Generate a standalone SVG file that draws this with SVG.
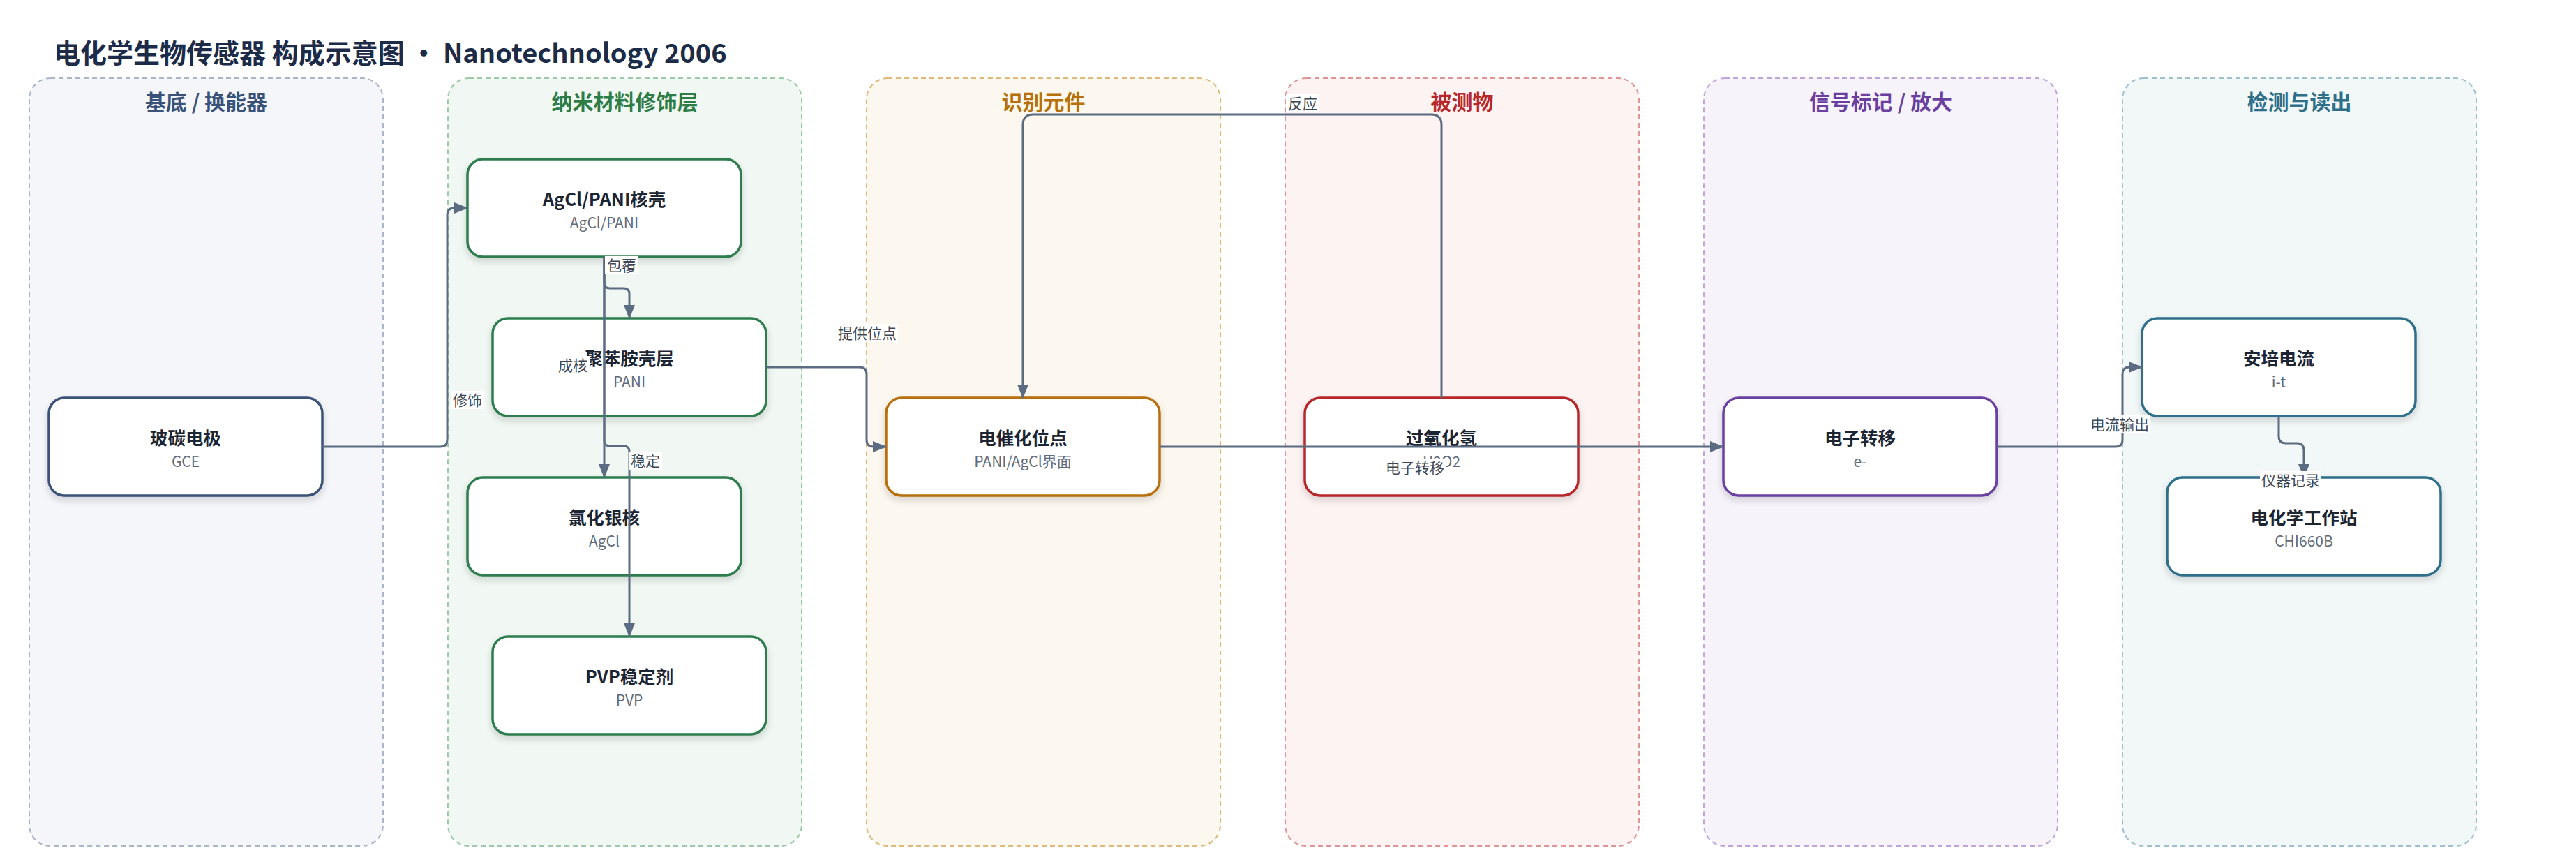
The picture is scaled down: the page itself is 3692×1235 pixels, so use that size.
<svg xmlns="http://www.w3.org/2000/svg" width="3692" height="1235" viewBox="0 0 3692 1235">
<defs>
<filter id="sh" x="-10%" y="-10%" width="120%" height="140%">
<feDropShadow dx="0" dy="5" stdDeviation="5" flood-color="#1c2533" flood-opacity="0.18"/>
</filter>
<marker id="arr" markerUnits="userSpaceOnUse" markerWidth="20" markerHeight="18" refX="19" refY="8" orient="auto">
<path d="M0,0 L20,8 L0,16 Z" fill="#5a6b82"/>
</marker>
</defs>
<style>
.title{font-family:"Noto Sans CJK SC","Noto Sans",sans-serif;font-weight:700;font-size:38px;fill:#1b2b48}
.lane{stroke-width:2;stroke-dasharray:7 5}
.lt{font-family:"Noto Sans CJK SC","Noto Sans",sans-serif;font-weight:700;font-size:30px;text-anchor:middle}
.node{fill:#ffffff;stroke-width:3.5;filter:url(#sh)}
.nt{font-family:"Noto Sans CJK SC","Noto Sans",sans-serif;font-weight:700;font-size:25.5px;fill:#1c2533;text-anchor:middle}
.ns{font-family:"Noto Sans CJK SC","Noto Sans",sans-serif;font-size:21px;fill:#5f6b7a;text-anchor:middle}
.edge{fill:none;stroke:#5a6b82;stroke-width:3;marker-end:url(#arr)}
.lb{fill:#ffffff}
.lbt{font-family:"Noto Sans CJK SC","Noto Sans",sans-serif;font-size:21px;fill:#3d4756;text-anchor:middle}
</style>
<rect width="3692" height="1235" fill="#ffffff"/>
<text class="title" x="77" y="90">电化学生物传感器 构成示意图 · Nanotechnology 2006</text>

<g id="lanes">
<g id="lane-substrate"><rect class="lane" x="42" y="112" width="507" height="1100" rx="30" fill="#f4f6fa" stroke="#aab5c9"/><text class="lt" x="295.5" y="157" fill="#3b5278">基底 / 换能器</text></g>
<g id="lane-nano"><rect class="lane" x="642" y="112" width="507" height="1100" rx="30" fill="#f1f8f3" stroke="#9ccaa8"/><text class="lt" x="895.5" y="157" fill="#2e7d46">纳米材料修饰层</text></g>
<g id="lane-recog"><rect class="lane" x="1242" y="112" width="507" height="1100" rx="30" fill="#fdf8ef" stroke="#e0b978"/><text class="lt" x="1495.5" y="157" fill="#b8700a">识别元件</text></g>
<g id="lane-analyte"><rect class="lane" x="1842" y="112" width="507" height="1100" rx="30" fill="#fdf3f2" stroke="#e09494"/><text class="lt" x="2095.5" y="157" fill="#b8282a">被测物</text></g>
<g id="lane-signal"><rect class="lane" x="2442" y="112" width="507" height="1100" rx="30" fill="#f6f3fb" stroke="#c0a5dc"/><text class="lt" x="2695.5" y="157" fill="#6a3fa0">信号标记 / 放大</text></g>
<g id="lane-detect"><rect class="lane" x="3042" y="112" width="507" height="1100" rx="30" fill="#f2f7f8" stroke="#9cc0cc"/><text class="lt" x="3295.5" y="157" fill="#2f6f8a">检测与读出</text></g>
</g>

<g id="node-gce"><rect class="node" x="70" y="570" width="392" height="140" rx="22" stroke="#3b5278"/><text class="nt" x="266" y="637">玻碳电极</text><text class="ns" x="266" y="669">GCE</text></g>
<g id="node-agclpani"><rect class="node" x="670" y="228" width="392" height="140" rx="22" stroke="#2e7d4f"/><text class="nt" x="866" y="295">AgCl/PANI核壳</text><text class="ns" x="866" y="327">AgCl/PANI</text></g>
<g id="node-pani"><rect class="node" x="706" y="456" width="392" height="140" rx="22" stroke="#2e7d4f"/><text class="nt" x="902" y="523">聚苯胺壳层</text><text class="ns" x="902" y="555">PANI</text></g>
<g id="node-agcl"><rect class="node" x="670" y="684" width="392" height="140" rx="22" stroke="#2e7d4f"/><text class="nt" x="866" y="751">氯化银核</text><text class="ns" x="866" y="783">AgCl</text></g>
<g id="node-pvp"><rect class="node" x="706" y="912" width="392" height="140" rx="22" stroke="#2e7d4f"/><text class="nt" x="902" y="979">PVP稳定剂</text><text class="ns" x="902" y="1011">PVP</text></g>
<g id="node-site"><rect class="node" x="1270" y="570" width="392" height="140" rx="22" stroke="#b8700a"/><text class="nt" x="1466" y="637">电催化位点</text><text class="ns" x="1466" y="669">PANI/AgCl界面</text></g>
<g id="node-h2o2"><rect class="node" x="1870" y="570" width="392" height="140" rx="22" stroke="#b8282a"/><text class="nt" x="2066" y="637">过氧化氢</text><text class="ns" x="2066" y="669">H2O2</text></g>
<g id="node-etransfer"><rect class="node" x="2470" y="570" width="392" height="140" rx="22" stroke="#6a3fa0"/><text class="nt" x="2666" y="637">电子转移</text><text class="ns" x="2666" y="669">e-</text></g>
<g id="node-current"><rect class="node" x="3070" y="456" width="392" height="140" rx="22" stroke="#2f6f8a"/><text class="nt" x="3266" y="523">安培电流</text><text class="ns" x="3266" y="555">i-t</text></g>
<g id="node-station"><rect class="node" x="3106" y="684" width="392" height="140" rx="22" stroke="#2f6f8a"/><text class="nt" x="3302" y="751">电化学工作站</text><text class="ns" x="3302" y="783">CHI660B</text></g>

<g id="connectors">
<path class="edge" d="M462 640 H631 Q641 640 641 630 V308 Q641 298 651 298 H670"/>
<path class="edge" d="M866 368 V405 Q866 413 874 413 H894 Q902 413 902 421 V456"/>
<path class="edge" d="M866 368 V684"/>
<path class="edge" d="M866 368 V631 Q866 639 874 639 H894 Q902 639 902 647 V912"/>
<path class="edge" d="M1098 526 H1232 Q1242 526 1242 536 V630 Q1242 640 1252 640 H1270"/>
<path class="edge" d="M2066 570 V179 Q2066 164 2051 164 H1481 Q1466 164 1466 179 V570"/>
<path class="edge" d="M1662 640 H2470"/>
<path class="edge" d="M2862 640 H3032 Q3042 640 3042 630 V536 Q3042 526 3052 526 H3070"/>
<path class="edge" d="M3266 596 V625 Q3266 635 3276 635 H3292 Q3302 635 3302 645 V684"/>
<g id="edge-labels">
<rect class="lb" x="646" y="560" width="48" height="26"/><text class="lbt" x="670" y="581">修饰</text>
<rect class="lb" x="867" y="367" width="48" height="26"/><text class="lbt" x="891" y="388">包覆</text>
<rect class="lb" x="797" y="510" width="48" height="26"/><text class="lbt" x="821" y="531">成核</text>
<rect class="lb" x="901" y="647" width="48" height="26"/><text class="lbt" x="925" y="668">稳定</text>
<rect class="lb" x="1199" y="464" width="88" height="26"/><text class="lbt" x="1243" y="485">提供位点</text>
<rect class="lb" x="1843" y="135" width="48" height="26"/><text class="lbt" x="1867" y="156">反应</text>
<rect class="lb" x="1984" y="657" width="88" height="26"/><text class="lbt" x="2028" y="678">电子转移</text>
<rect class="lb" x="2994" y="595" width="88" height="26"/><text class="lbt" x="3038" y="616">电流输出</text>
<rect class="lb" x="3239" y="675" width="88" height="26"/><text class="lbt" x="3283" y="696">仪器记录</text>
</g>
</g>
</svg>
